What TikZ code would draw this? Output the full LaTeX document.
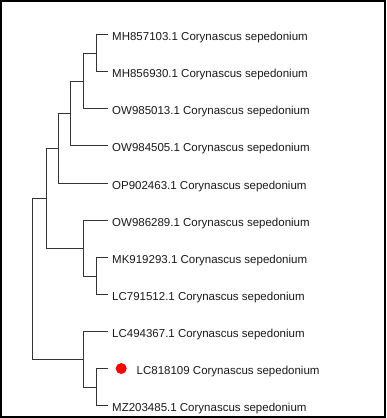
\documentclass[tikz,border=0pt]{standalone}
\usepackage{fontspec}
\setmainfont{Liberation Sans}
\definecolor{branch}{HTML}{333333}
\definecolor{labeltxt}{HTML}{1A1A1A}
\begin{document}
\begin{tikzpicture}[x=1pt,y=-1pt,
  br/.style={draw=branch,line width=1pt},
  leaf/.style={anchor=base west,inner sep=0pt,text=labeltxt,font=\fontsize{11.5}{13}\selectfont},
  frame/.style={draw=black,line width=2pt}]
\useasboundingbox[fill=white] (0,0) rectangle (386,418);
\draw[frame] (1,1) rectangle (385,417);
% leaf tips
\foreach \i/\y in {0/34.5,1/71.5,2/108.5,3/145.5,4/183.5,5/220.5,6/257.5,7/294.5,8/331.5,9/368.5,10/405.5}
  \coordinate (t\i) at (108,\y);
% labels
\node[leaf] (l0) at (112,40.5) {MH857103.1 Corynascus sepedonium};
\node[leaf] (l1) at (112,77.5) {MH856930.1 Corynascus sepedonium};
\node[leaf] (l2) at (112,114.5) {OW985013.1 Corynascus sepedonium};
\node[leaf] (l3) at (112,151.5) {OW984505.1 Corynascus sepedonium};
\node[leaf] (l4) at (112,189.5) {OP902463.1 Corynascus sepedonium};
\node[leaf] (l5) at (112,226.5) {OW986289.1 Corynascus sepedonium};
\node[leaf] (l6) at (112,263.5) {MK919293.1 Corynascus sepedonium};
\node[leaf] (l7) at (112,300.5) {LC791512.1 Corynascus sepedonium};
\node[leaf] (l8) at (112,337.5) {LC494367.1 Corynascus sepedonium};
\node[circle,fill=red,inner sep=0pt,minimum size=11pt] (dot) at (121.2,368.5) {};
\node[leaf] (l9) at (136.5,374.5) {LC818109 Corynascus sepedonium};
\node[leaf] (l10) at (112,411.5) {MZ203485.1 Corynascus sepedonium};
% internal nodes
\coordinate (a) at (96.5,53.5);   % t0,t1
\coordinate (b) at (83.5,81.5);   % a,t2
\coordinate (c) at (70.5,113.5);  % b,t3
\coordinate (d) at (58.5,148.5);  % c,t4
\coordinate (e) at (96.5,276.5);  % t6,t7
\coordinate (f) at (83.5,248.5);  % t5,e
\coordinate (g) at (46.5,198.5);  % d,f
\coordinate (h) at (96.5,387.5);  % t9,t10
\coordinate (k) at (83.5,359.5);  % t8,h
\coordinate (r) at (32.5,278.5);  % g,k
% branches
\draw[br] (t0) -| (a) |- (t1);
\draw[br] (a) -| (b) |- (t2);
\draw[br] (b) -| (c) |- (t3);
\draw[br] (c) -| (d) |- (t4);
\draw[br] (t6) -| (e) |- (t7);
\draw[br] (t5) -| (f) |- (e);
\draw[br] (d) -| (g) |- (f);
\draw[br] (t9) -| (h) |- (t10);
\draw[br] (t8) -| (k) |- (h);
\draw[br] (g) -| (r) |- (k);
\end{tikzpicture}
\end{document}
